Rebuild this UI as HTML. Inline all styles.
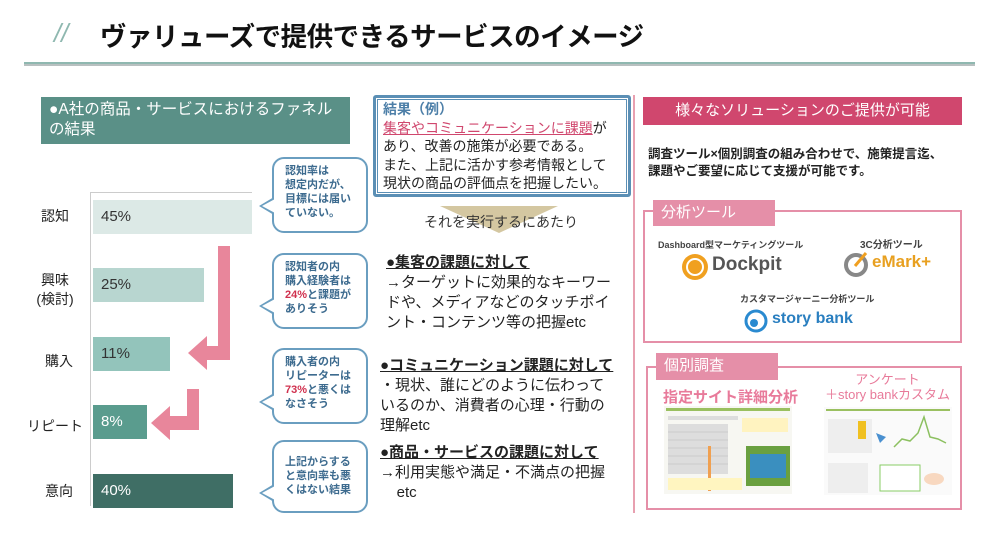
<!DOCTYPE html>
<html><head><meta charset="utf-8"><style>
*{margin:0;padding:0;box-sizing:border-box}
body{width:1000px;height:534px;background:#fff;position:relative;overflow:hidden;font-family:"Liberation Sans","Noto Sans CJK JP",sans-serif;color:#222}
.a{position:absolute;white-space:nowrap}
.bar{position:absolute;left:93px;height:34px;font-size:15px;line-height:34px;padding-left:8px;color:#333}
.lbl{position:absolute;font-size:14px;text-align:center;width:60px;line-height:19px}
.co{position:absolute;left:272px;width:96px;border:2px solid #6a9ec0;border-radius:12px;background:#fff;font-size:11px;font-weight:bold;color:#3d6b8f;line-height:14px;padding:5px 0 0 11px}
.tail{position:absolute;left:259px;width:0;height:0;border-top:9px solid transparent;border-bottom:9px solid transparent;border-right:15px solid #6a9ec0}
.tail i{position:absolute;left:3px;top:-7px;width:0;height:0;border-top:7px solid transparent;border-bottom:7px solid transparent;border-right:13px solid #fff}
.r{color:#d0304e}
.mt{font-size:15px;line-height:20px}
.h{font-weight:bold;text-decoration:underline}
.tab{position:absolute;background:#e58fa8;color:#fff;font-size:15px;padding-left:8px;line-height:26px}
.bx{position:absolute;border:2px solid #e58fa8}
</style></head><body>
<div class="a" style="left:54px;top:18px;font-size:26px;color:#8fb8b0;font-style:italic;">//</div>
<div class="a" style="left:100px;top:15px;font-size:26.5px;font-weight:bold;color:#111;letter-spacing:-0.5px">ヴァリューズで提供できるサービスのイメージ</div>
<div class="a" style="left:24px;top:62px;width:951px;height:2px;background:#8fb8b0"></div>
<div class="a" style="left:24px;top:64px;width:951px;height:2px;background:#b8c0c0"></div>

<div class="a" style="left:41px;top:97px;width:309px;height:47px;background:#5a9087;color:#fff;font-size:15.5px;line-height:20px;padding:3px 0 0 8px">●A社の商品・サービスにおけるファネル<br>の結果</div>

<div class="a" style="left:90px;top:192px;width:1px;height:314px;background:#ccc"></div>
<div class="a" style="left:90px;top:192px;width:162px;height:1px;background:#ccc"></div>
<div class="bar" style="top:200px;width:159px;background:#dce9e6">45%</div>
<div class="bar" style="top:268px;width:111px;background:#b8d6d0">25%</div>
<div class="bar" style="top:337px;width:77px;background:#93c4bb">11%</div>
<div class="bar" style="top:405px;width:54px;background:#5a9c8e;color:#fff">8%</div>
<div class="bar" style="top:474px;width:140px;background:#3f6e65;color:#fff">40%</div>
<div class="lbl" style="left:25px;top:207px">認知</div>
<div class="lbl" style="left:25px;top:271px">興味<br>(検討)</div>
<div class="lbl" style="left:29px;top:352px">購入</div>
<div class="lbl" style="left:25px;top:417px">リピート</div>
<div class="lbl" style="left:29px;top:482px">意向</div>

<svg class="a" style="left:0;top:0" width="260" height="534">
<polygon fill="#e8869b" points="218,248 230,248 230,362 207,362 207,372 188,355 207,338 207,348 218,348" transform="translate(0,-2)"/>
<polygon fill="#e8869b" points="187,386 199,386 199,427 170,427 170,437 151,420 170,403 170,413 187,413" transform="translate(0,3)"/>
</svg>

<div class="co" style="top:157px;height:76px">認知率は<br>想定内だが、<br>目標には届い<br>ていない。</div>
<div class="tail" style="top:197px"><i></i></div>
<div class="co" style="top:253px;height:76px">認知者の内<br>購入経験者は<br><span class="r">24%</span>と課題が<br>ありそう</div>
<div class="tail" style="top:297px"><i></i></div>
<div class="co" style="top:348px;height:76px">購入者の内<br>リピーターは<br><span class="r">73%</span>と悪くは<br>なさそう</div>
<div class="tail" style="top:393px"><i></i></div>
<div class="co" style="top:440px;height:73px;padding-top:13px">上記からする<br>と意向率も悪<br>くはない結果</div>
<div class="tail" style="top:484px"><i></i></div>

<div class="a" style="left:373px;top:95px;width:258px;height:102px;border:3px solid #5b8fb5;border-radius:3px"></div>
<div class="a" style="left:377px;top:99px;width:250px;height:94px;border:1px solid #5b8fb5"></div>
<div class="a mt" style="left:383px;top:100px;font-size:14px;line-height:18.5px"><b style="color:#4d7fa8">結果（例）</b><br><span style="color:#d0476e;text-decoration:underline">集客やコミュニケーションに課題</span>が<br>あり、改善の施策が必要である。<br>また、上記に活かす参考情報として<br>現状の商品の評価点を把握したい。</div>
<svg class="a" style="left:440px;top:206px" width="120" height="28"><polygon points="0,0 118,0 59,27" fill="#c9b98a" opacity="0.8"/></svg>
<div class="a" style="left:424px;top:212px;font-size:14px;color:#333">それを実行するにあたり</div>

<div class="a mt" style="left:386px;top:253px"><span class="h">●集客の課題に対して</span><br>→ターゲットに効果的なキーワー<br>ドや、メディアなどのタッチポイ<br>ント・コンテンツ等の把握etc</div>
<div class="a mt" style="left:380px;top:356px"><span class="h">●コミュニケーション課題に対して</span><br>・現状、誰にどのように伝わって<br>いるのか、消費者の心理・行動の<br>理解etc</div>
<div class="a mt" style="left:380px;top:443px"><span class="h">●商品・サービスの課題に対して</span><br>→利用実態や満足・不満点の把握<br>&nbsp;&nbsp;&nbsp;&nbsp;etc</div>

<div class="a" style="left:633px;top:95px;width:2px;height:418px;background:#e8a0b0"></div>

<div class="a" style="left:643px;top:97px;width:319px;height:28px;background:#d0476e;color:#fff;font-size:15px;line-height:28px;text-align:center">様々なソリューションのご提供が可能</div>
<div class="a" style="left:648px;top:146px;font-size:12.5px;font-weight:bold;line-height:17px">調査ツール×個別調査の組み合わせで、施策提言迄、<br>課題やご要望に応じて支援が可能です。</div>

<div class="bx" style="left:643px;top:210px;width:319px;height:133px"></div>
<div class="tab" style="left:653px;top:200px;width:122px">分析ツール</div>
<div class="a" style="left:658px;top:238px;font-size:9px;font-weight:bold;color:#444">Dashboard型マーケティングツール</div>
<svg class="a" style="left:681px;top:253px" width="28" height="28"><circle cx="14" cy="14" r="13" fill="#f0a020"/><circle cx="14" cy="14" r="8" fill="none" stroke="#fff" stroke-width="2"/></svg>
<div class="a" style="left:712px;top:254px;font-size:19px;font-weight:bold;color:#555">Dockpit</div>
<div class="a" style="left:860px;top:236px;font-size:10px;font-weight:bold;color:#444">3C分析ツール</div>
<svg class="a" style="left:843px;top:250px" width="28" height="28"><circle cx="13" cy="15" r="10" fill="none" stroke="#888" stroke-width="4"/><line x1="12" y1="16" x2="23" y2="3" stroke="#f0a020" stroke-width="3"/></svg>
<div class="a" style="left:872px;top:252px;font-size:17px;font-weight:bold;color:#e8a020">eMark+</div>
<div class="a" style="left:740px;top:292px;font-size:9px;font-weight:bold;color:#444">カスタマージャーニー分析ツール</div>
<svg class="a" style="left:744px;top:309px" width="24" height="24"><circle cx="12" cy="12" r="10" fill="none" stroke="#2a8ad0" stroke-width="3"/><circle cx="10" cy="14" r="4" fill="#2a8ad0"/></svg>
<div class="a" style="left:772px;top:310px;font-size:16px;font-weight:bold;color:#2a7fc0">story bank</div>

<div class="bx" style="left:646px;top:366px;width:316px;height:144px"></div>
<div class="tab" style="left:656px;top:353px;width:122px;height:27px">個別調査</div>
<div class="a" style="left:663px;top:386px;font-size:15px;font-weight:bold;color:#e87a9a">指定サイト詳細分析</div>
<div class="a" style="left:825px;top:372px;font-size:13px;color:#e87a9a;text-align:center;line-height:15px">アンケート<br>＋story bankカスタム</div>
<svg class="a" style="left:664px;top:406px" width="128" height="88">
<rect width="128" height="88" fill="#f7f7f2"/><rect x="2" y="2" width="124" height="3" fill="#9ac060"/>
<g fill="#ddd"><rect x="4" y="10" width="70" height="4"/><rect x="4" y="18" width="60" height="50"/></g>
<g stroke="#bbb" stroke-width="0.5"><line x1="4" y1="26" x2="64" y2="26"/><line x1="4" y1="34" x2="64" y2="34"/><line x1="4" y1="42" x2="64" y2="42"/><line x1="4" y1="50" x2="64" y2="50"/><line x1="4" y1="58" x2="64" y2="58"/></g>
<rect x="78" y="12" width="46" height="14" fill="#fff3c0"/><rect x="82" y="40" width="44" height="40" fill="#6aa040"/><rect x="86" y="48" width="36" height="24" fill="#3a8fbf"/>
<rect x="44" y="40" width="3" height="45" fill="#f0a050"/><rect x="4" y="72" width="74" height="12" fill="#fff5c0"/></svg>
<svg class="a" style="left:824px;top:407px" width="128" height="88">
<rect width="128" height="88" fill="#fafafa"/><rect x="2" y="2" width="124" height="2" fill="#9ac060"/>
<rect x="4" y="12" width="44" height="34" fill="#eee"/><rect x="34" y="14" width="8" height="18" fill="#f0c020"/>
<polyline points="70,40 78,32 86,34 94,26 100,10 106,30 114,32 122,36" fill="none" stroke="#8cc060" stroke-width="1.5"/>
<polygon points="52,26 62,30 56,36" fill="#4a90d0"/>
<rect x="4" y="56" width="40" height="30" fill="#eee"/><rect x="56" y="58" width="40" height="26" fill="#fff" stroke="#8c6" /><ellipse cx="110" cy="72" rx="10" ry="6" fill="#f8d8c0"/></svg>
</body></html>
